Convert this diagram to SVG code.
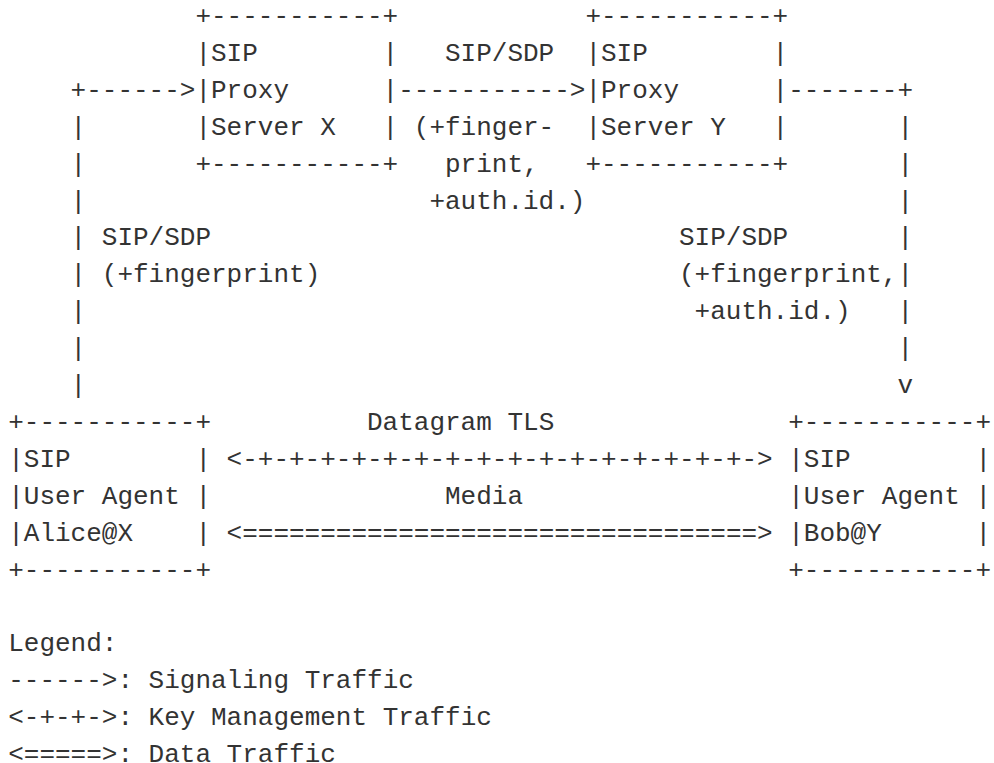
<svg xmlns="http://www.w3.org/2000/svg" width="994" height="763" viewBox="0 0 994 763" xml:space="preserve">
<style>
text { font-family: "Liberation Mono", "DejaVu Sans Mono", monospace; font-size: 26px; fill: #333333; white-space: pre; }
</style>
<rect x="0" y="0" width="994" height="763" fill="#ffffff"/>
<g id="proxyX">
<text x="195.4" y="24">+-----------+</text>
<text x="195.4" y="60.9">|SIP        |</text>
<text x="195.4" y="97.8">|Proxy      |</text>
<text x="195.4" y="134.7">|Server X   |</text>
<text x="195.4" y="171.6">+-----------+</text>
</g>
<g id="proxyY">
<text x="585.4" y="24">+-----------+</text>
<text x="585.4" y="60.9">|SIP        |</text>
<text x="585.4" y="97.8">|Proxy      |</text>
<text x="585.4" y="134.7">|Server Y   |</text>
<text x="585.4" y="171.6">+-----------+</text>
</g>
<g id="alice">
<text x="8.2" y="429.9">+-----------+</text>
<text x="8.2" y="466.8">|SIP        |</text>
<text x="8.2" y="503.7">|User Agent |</text>
<text x="8.2" y="540.6">|Alice@X    |</text>
<text x="8.2" y="577.5">+-----------+</text>
</g>
<g id="bob">
<text x="788.2" y="429.9">+-----------+</text>
<text x="788.2" y="466.8">|SIP        |</text>
<text x="788.2" y="503.7">|User Agent |</text>
<text x="788.2" y="540.6">|Bob@Y      |</text>
<text x="788.2" y="577.5">+-----------+</text>
</g>
<g id="connectors">
<text x="70.6" y="97.8">+------&gt;</text>
<text x="398.2" y="97.8">-----------&gt;</text>
<text x="788.2" y="97.8">-------+</text>
<text x="70.6" y="134.7">|</text><text x="897.4" y="134.7">|</text>
<text x="70.6" y="171.6">|</text><text x="897.4" y="171.6">|</text>
<text x="70.6" y="208.5">|</text><text x="897.4" y="208.5">|</text>
<text x="70.6" y="245.4">|</text><text x="897.4" y="245.4">|</text>
<text x="70.6" y="282.3">|</text><text x="897.4" y="282.3">|</text>
<text x="70.6" y="319.2">|</text><text x="897.4" y="319.2">|</text>
<text x="70.6" y="356.1">|</text><text x="897.4" y="356.1">|</text>
<text x="70.6" y="393">|</text><text x="897.4" y="393">v</text>
<text x="226.6" y="466.8">&lt;-+-+-+-+-+-+-+-+-+-+-+-+-+-+-+-+-&gt;</text>
<text x="226.6" y="540.6">&lt;=================================&gt;</text>
</g>
<g id="labels">
<text x="445" y="60.9">SIP/SDP</text>
<text x="413.8" y="134.7">(+finger-</text>
<text x="445" y="171.6">print,</text>
<text x="429.4" y="208.5">+auth.id.)</text>
<text x="101.8" y="245.4">SIP/SDP</text>
<text x="679" y="245.4">SIP/SDP</text>
<text x="101.8" y="282.3">(+fingerprint)</text>
<text x="679" y="282.3">(+fingerprint,</text>
<text x="694.6" y="319.2">+auth.id.)</text>
<text x="367" y="429.9">Datagram TLS</text>
<text x="445" y="503.7">Media</text>
</g>
<g id="legend">
<text x="8.2" y="651.3">Legend:</text>
<text x="8.2" y="688.2">------&gt;: Signaling Traffic</text>
<text x="8.2" y="725.1">&lt;-+-+-&gt;: Key Management Traffic</text>
<text x="8.2" y="762">&lt;=====&gt;: Data Traffic</text>
</g>
</svg>
